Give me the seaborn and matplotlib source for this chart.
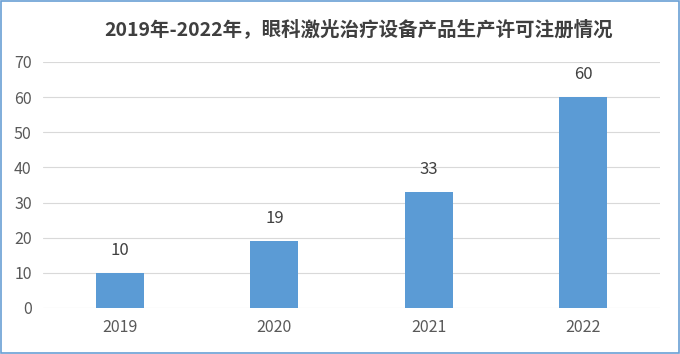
import matplotlib
matplotlib.use("Agg")
import matplotlib.pyplot as plt
import seaborn as sns
import pandas as pd
from matplotlib.patches import Rectangle

years = ["2019", "2020", "2021", "2022"]
counts = [10, 19, 33, 60]
y_ticks = [0, 10, 20, 30, 40, 50, 60, 70]
title = "2019年-2022年，眼科激光治疗设备产品生产许可注册情况"

df = pd.DataFrame({"year": years, "count": counts})

sns.set_theme(style="white")
plt.rcParams["font.family"] = ["Noto Sans CJK SC", "DejaVu Sans"]

fig = plt.figure(figsize=(6.8, 3.54), dpi=100)
ax = fig.add_axes([0.063, 0.130, 0.908, 0.695])

sns.barplot(data=df, x="year", y="count", color="#5B9BD5", saturation=1,
            width=0.31, linewidth=0, ax=ax, zorder=3)

ax.set_ylim(0, 70)
ax.set_yticks(y_ticks)
ax.yaxis.grid(True, color="#D9D9D9", linewidth=0.8, zorder=0)
for s in ax.spines.values():
    s.set_visible(False)
ax.tick_params(axis="both", length=0, labelsize=11.5, colors="#595959", pad=8)
ax.set_xlabel("")
ax.set_ylabel("")

for i, v in enumerate(counts):
    ax.text(i, v + 4, str(v), ha="center", va="bottom", fontsize=12, color="#404040")

fig.text(0.527, 0.918, title, ha="center", va="center", fontsize=14,
         color="#3F3F3F", fontweight="bold")

fig.patches.append(Rectangle((0.002, 0.003), 0.996, 0.994, transform=fig.transFigure,
                             fill=False, edgecolor="#6A9FD4", linewidth=1.2))

fig.savefig("out.png", dpi=100)
